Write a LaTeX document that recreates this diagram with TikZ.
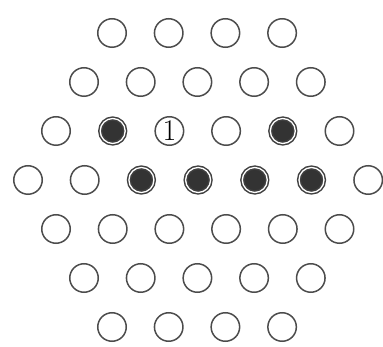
\documentclass[tikz,border=0pt]{standalone}
\usepackage{fontspec}
\begin{document}
\begin{tikzpicture}[x=1pt,y=-1pt,
  hole/.style={circle,draw=black!70,line width=1.5pt,minimum size=28.5pt,inner sep=0pt},
  peg/.style={hole,double=white,double distance=1.3pt,draw=black!75,fill=black!80,minimum size=25pt},
  lbl/.style={hole,font=\fontsize{30}{30}\selectfont}]
\useasboundingbox (0,0) rectangle (383,347);
% rows: y positions and counts
\foreach \r/\y/\n/\x in {1/33/4/112,2/82/5/84,3/131/6/56,4/180/7/28,5/229/6/56,6/278/5/84,7/327/4/112}{
  \foreach \c in {1,...,\n}{
    \pgfmathsetmacro\xx{\x+(\c-1)*56.7}
    \coordinate (p-\r-\c) at (\xx,\y);
  }
}
% open holes
\foreach \r/\n in {1/4,2/5,6/5,7/4,5/6}{
  \foreach \c in {1,...,\n}{ \node[hole] (h-\r-\c) at (p-\r-\c) {}; }
}
\node[hole] (h-3-1) at (p-3-1) {};
\node[peg]  (h-3-2) at (p-3-2) {};
\node[lbl]  (h-3-3) at (p-3-3) {1};
\node[hole] (h-3-4) at (p-3-4) {};
\node[peg]  (h-3-5) at (p-3-5) {};
\node[hole] (h-3-6) at (p-3-6) {};
\node[hole] (h-4-1) at (p-4-1) {};
\node[hole] (h-4-2) at (p-4-2) {};
\node[peg]  (h-4-3) at (p-4-3) {};
\node[peg]  (h-4-4) at (p-4-4) {};
\node[peg]  (h-4-5) at (p-4-5) {};
\node[peg]  (h-4-6) at (p-4-6) {};
\node[hole] (h-4-7) at (p-4-7) {};
\end{tikzpicture}
\end{document}
